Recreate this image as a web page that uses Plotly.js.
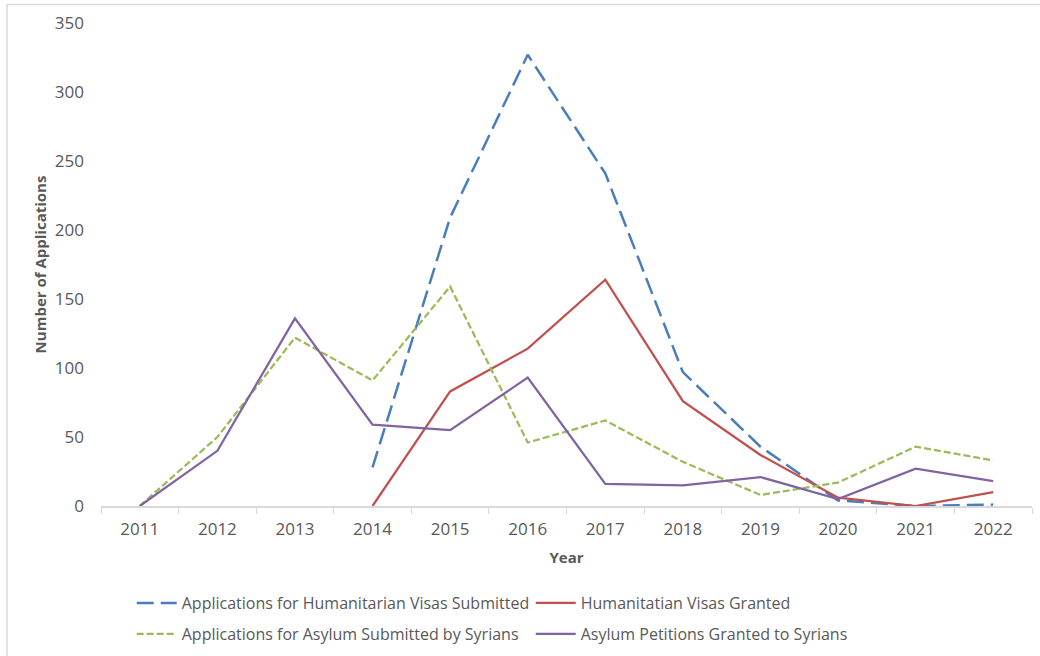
<!DOCTYPE html>
<html>
<head>
<meta charset="utf-8">
<script src="https://cdn.plot.ly/plotly-3.0.1.min.js"></script>
<style>
  html, body { margin: 0; padding: 0; background: #ffffff; }
  #chart { width: 1040px; height: 656px; }
</style>
</head>
<body>
<div id="chart"></div>
<script>
// Data
const years = ["2011","2012","2013","2014","2015","2016","2017","2018","2019","2020","2021","2022"];
const visasSubmitted = [null, null, null, 28, 209, 327, 241, 97, 43, 4, 0, 1];
const visasGranted = [null, null, null, 0, 83, 114, 164, 76, 37, 6, 0, 10];
const asylumSubmitted = [0, 50, 122, 91, 159, 46, 62, 32, 8, 17, 43, 33];
const asylumGranted = [0, 40, 136, 59, 55, 93, 16, 15, 21, 5, 27, 18];

const seriesNames = [
  "Applications for Humanitarian Visas Submitted",
  "Humanitatian Visas Granted",
  "Applications for Asylum Submitted by Syrians",
  "Asylum Petitions Granted to Syrians"
];

const font = "'Open Sans', 'Noto Sans', sans-serif";
const textColor = "#595959";

const traces = [
  {x: years, y: visasSubmitted, name: seriesNames[0], type: "scatter", mode: "lines", legend: "legend",
   line: {color: "#4A7EBB", width: 2.5, dash: "17px,7px"}},
  {x: years, y: visasGranted, name: seriesNames[1], type: "scatter", mode: "lines", legend: "legend",
   line: {color: "#C0504D", width: 2.25}},
  {x: years, y: asylumSubmitted, name: seriesNames[2], type: "scatter", mode: "lines", legend: "legend2",
   line: {color: "#9BBB59", width: 2.25, dash: "7px,3px"}},
  {x: years, y: asylumGranted, name: seriesNames[3], type: "scatter", mode: "lines", legend: "legend2",
   line: {color: "#8064A2", width: 2.25}}
];

const legendCommon = {
  orientation: "h",
  xanchor: "left", yanchor: "middle",
  entrywidth: 344, entrywidthmode: "pixels",
  font: {family: font, size: 16, color: textColor},
  itemwidth: 40
};

const layout = {
  width: 1040, height: 656,
  margin: {l: 101, r: 8, t: 23, b: 150, autoexpand: false},
  paper_bgcolor: "#ffffff", plot_bgcolor: "#ffffff",
  font: {family: font, color: textColor, size: 16},
  showlegend: true,
  xaxis: {
    type: "category",
    range: [-0.5, 11.5],
    tickson: "boundaries",
    ticks: "outside", ticklen: 6, tickcolor: "#d9d9d9", tickwidth: 1,
    showline: true, linecolor: "#d9d9d9", linewidth: 1.5,
    showgrid: false, zeroline: false,
    ticklabelstandoff: 7,
    tickfont: {family: font, size: 17, color: textColor},
    title: {text: "<b>Year</b>", font: {family: font, size: 15, color: textColor}, standoff: 13},
    automargin: false, fixedrange: true
  },
  yaxis: {
    range: [0, 350], dtick: 50,
    showgrid: false, zeroline: false, showline: false, ticks: "",
    ticklabelstandoff: 16,
    tickfont: {family: font, size: 17, color: textColor},
    title: {text: "<b>Number of Applications</b>", font: {family: font, size: 15, color: textColor}, standoff: 4},
    automargin: false, fixedrange: true
  },
  legend: Object.assign({}, legendCommon, {x: 0.033, y: (506 - 603) / 483}),
  legend2: Object.assign({}, legendCommon, {x: 0.033, y: (506 - 634) / 483}),
  shapes: [
    {type: "rect", xref: "paper", yref: "paper",
     x0: (7 - 101) / 931, x1: 1.02, y0: -0.33, y1: (506 - 4.5) / 483,
     line: {color: "#d9d9d9", width: 1.5}, fillcolor: "rgba(0,0,0,0)", layer: "below"}
  ]
};

Plotly.newPlot("chart", traces, layout, {displayModeBar: false, staticPlot: true});
</script>
</body>
</html>
